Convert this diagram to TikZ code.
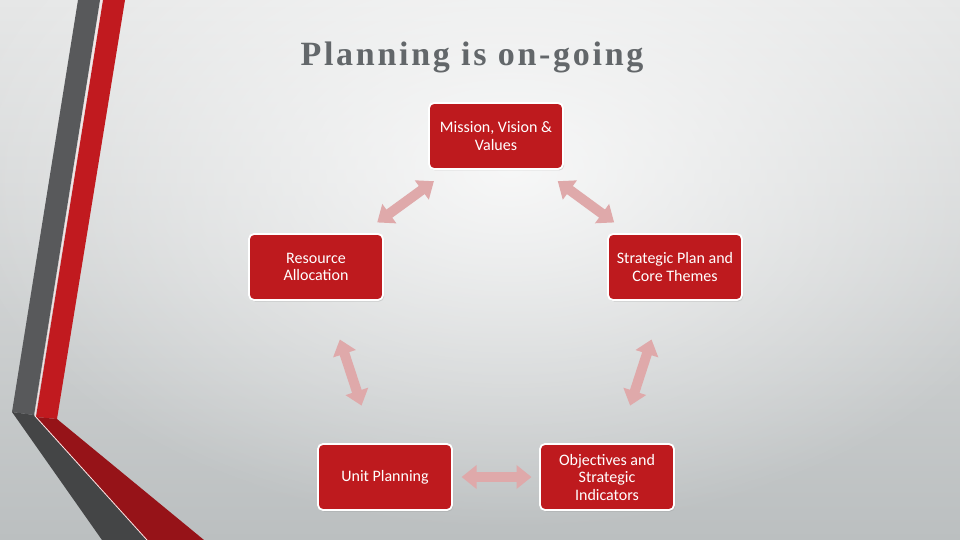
\documentclass[tikz,border=0pt]{standalone}
\usepackage{fontspec}
\setmainfont{Carlito}
\newfontfamily\titlefont[LetterSpace=8]{Liberation Serif}
\usetikzlibrary{arrows.meta,calc,shadows,fadings}
\tikzfading[name=glowfade, inner color=transparent!0, outer color=transparent!100]
\definecolor{boxred}{HTML}{BE1A1E}
\definecolor{stripegray}{HTML}{58595B}
\definecolor{darkgray}{HTML}{444546}
\definecolor{stripered}{HTML}{C11A1F}
\definecolor{darkred}{HTML}{961318}
\definecolor{arrowpink}{HTML}{DFA9AA}
\definecolor{titlegray}{HTML}{63676A}
\definecolor{bgtop}{HTML}{E6E7E7}
\definecolor{bgbottom}{HTML}{BBBFC0}
\tikzset{
  stepbox/.style={draw=white, line width=1.8pt, fill=boxred, rounded corners=5pt,
    minimum width=134pt, minimum height=66pt, align=center, text=white,
    font=\fontsize{16}{17.5}\selectfont,
    drop shadow={opacity=0.25, shadow xshift=1.2pt, shadow yshift=-1.5pt}},
  dblarrow/.style={draw=arrowpink, line width=10pt,
    {Triangle[width=23pt,length=15pt]}-{Triangle[width=23pt,length=15pt]}},
}
\begin{document}
\begin{tikzpicture}[x=1pt,y=-1pt]
\useasboundingbox (0,0) rectangle (960,540);
% background
\shade[top color=bgtop, bottom color=bgbottom] (0,0) rectangle (960,540);
\begin{scope}
\clip (0,0) rectangle (960,540);
\fill[white, fill opacity=0.8, path fading=glowfade] (510,170) ellipse (560 and 360);
\end{scope}
% stripes
\fill[stripegray] (78,0) -- (100,0) -- (34,415) -- (12,412) -- cycle;
\fill[darkgray] (12,412) -- (34,415) -- (147,540) -- (102,540) -- cycle;
\fill[stripered] (103,0) -- (125,0) -- (57,419) -- (36,417) -- cycle;
\fill[darkred] (36,417) -- (57,419) -- (204,540) -- (147,540) -- cycle;
\draw[white!90!red, line width=0.8pt] (101.5,0) -- (35,416) -- (147,540);
% title
\node[font=\titlefont\fontsize{34}{38}\selectfont\bfseries, text=titlegray, anchor=base]
  (title) at (472,66) {Planning is on-going};
% boxes
\node[stepbox] (mission) at (496,136) {Mission, Vision \&\\Values};
\node[stepbox] (resource) at (316,267) {Resource\\Allocation};
\node[stepbox] (strategic) at (675,267) {Strategic Plan and\\Core Themes};
\node[stepbox] (unit) at (385,477) {Unit Planning};
\node[stepbox] (objectives) at (607,477) {Objectives and\\Strategic\\Indicators};
% arrows
\draw[dblarrow] ($(mission)!0.345!(resource)$) -- ($(mission)!0.66!(resource)$);
\draw[dblarrow] ($(mission)!0.345!(strategic)$) -- ($(mission)!0.66!(strategic)$);
\draw[dblarrow] ($(resource)!0.345!(unit)$) -- ($(resource)!0.66!(unit)$);
\draw[dblarrow] ($(strategic)!0.345!(objectives)$) -- ($(strategic)!0.66!(objectives)$);
\draw[dblarrow] ($(unit)!0.345!(objectives)$) -- ($(unit)!0.66!(objectives)$);
\end{tikzpicture}
\end{document}
